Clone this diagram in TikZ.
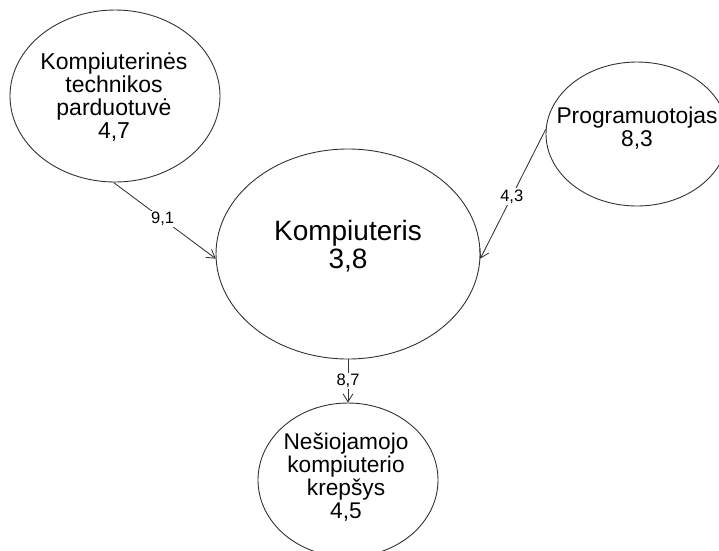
\documentclass[tikz,border=0pt]{standalone}
\usepackage{fontspec}
\setmainfont{Liberation Sans}
\usetikzlibrary{shapes.geometric,arrows.meta}
\begin{document}
\begin{tikzpicture}[x=1pt,y=-1pt,
  bubble/.style={ellipse,draw=black!80,line width=0.9pt,inner sep=0pt},
  caption/.style={align=center,text=black,inner sep=0pt},
  link/.style={draw=black!80,line width=0.85pt,-{Straight Barb[length=8pt,width=10pt]}},
  weight/.style={fill=white,inner sep=1.5pt,text=black,font=\fontsize{16.5}{16.5}\selectfont}]
  \useasboundingbox (0,0) rectangle (719,550);
  \begin{scope}
  \clip (0,0) rectangle (719,550);
  % shop, programmer, computer, laptop bag
  \node[bubble,minimum width=210pt,minimum height=172pt] (shop) at (115,96) {};
  \node[caption,font=\fontsize{23}{23}\selectfont] (shopt) at (114,97)
        {Kompiuterinės\\technikos\\parduotuvė\\4,7};
  \node[bubble,minimum width=182pt,minimum height=144pt] (prog) at (637,134) {};
  \node[caption,font=\fontsize{22.8}{23}\selectfont] (progt) at (637,128)
        {Programuotojas\\8,3};
  \node[bubble,minimum width=264pt,minimum height=210pt] (comp) at (348,254) {};
  \node[caption,font=\fontsize{28}{28.5}\selectfont] (compt) at (348,246)
        {Kompiuteris\\3,8};
  \node[bubble,minimum width=180pt,minimum height=154pt] (bag) at (348,480) {};
  \node[caption,font=\fontsize{22.7}{23}\selectfont] (bagt) at (346,477)
        {Nešiojamojo\\kompiuterio\\krepšys\\4,5};
  % weighted links
  \draw[link] (shop.269) -- node[weight,pos=0.48] {9,1} (comp.182);
  \draw[link] (prog.177) -- node[weight,pos=0.52] {4,3} (comp.358);
  \draw[link] (comp.south) -- node[weight] {8,7} (bag.north);
  \end{scope}
\end{tikzpicture}
\end{document}
